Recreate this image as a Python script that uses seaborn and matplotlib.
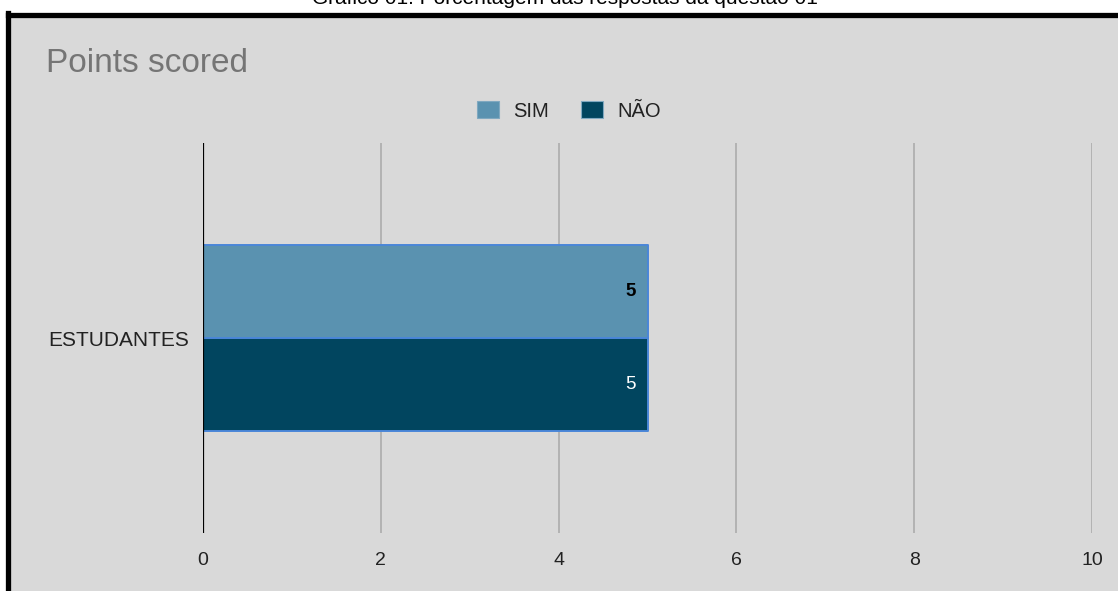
import matplotlib
matplotlib.use("Agg")
import matplotlib.pyplot as plt
import seaborn as sns
import pandas as pd
from matplotlib.patches import Rectangle
from matplotlib.lines import Line2D

categories = ["ESTUDANTES"]
series = ["SIM", "NÃO"]
sim_values = [5]
nao_values = [5]
x_ticks = [0, 2, 4, 6, 8, 10]
colors = {"SIM": "#5a92b0", "NÃO": "#01455f"}

df = pd.DataFrame({
    "cat": categories * 2,
    "serie": ["SIM"] * len(categories) + ["NÃO"] * len(categories),
    "val": sim_values + nao_values,
})

sns.set_style("white")
plt.rcParams['font.family'] = ['Liberation Sans', 'DejaVu Sans']

W, H = 1118, 591
fig = plt.figure(figsize=(W / 100, H / 100), dpi=100, facecolor="white")

# grey panel and black frame
fig.patches.append(Rectangle((8 / W, 0), 1 - 8 / W, 1 - 15 / H, transform=fig.transFigure,
                             facecolor="#d9d9d9", edgecolor="none", zorder=-10))
fig.lines.append(Line2D([7.5 / W, 7.5 / W], [0, 1 - 12.5 / H], transform=fig.transFigure,
                        color="black", linewidth=3.8, solid_capstyle="projecting", zorder=10))
fig.lines.append(Line2D([7.5 / W, 1], [1 - 14.5 / H, 1 - 14.5 / H], transform=fig.transFigure,
                        color="black", linewidth=3.8, solid_capstyle="projecting", zorder=10))

ax = fig.add_axes([203 / W, (H - 533) / H, (1092 - 203) / W, (533 - 143) / H])
ax.set_facecolor("none")

sns.barplot(data=df, y="cat", x="val", hue="serie", orient="h", palette=colors,
            width=0.477, ax=ax, edgecolor="#4a86d8", linewidth=1.4, legend=False,
            hue_order=series, saturation=1, zorder=4)
for p in ax.patches:
    p.set_joinstyle("round")

ax.set_xlim(0, 10)
ax.set_ylim(0.5, -0.5)
ax.set_xticks(x_ticks)
ax.set_xticklabels([str(t) for t in x_ticks], fontsize=14, color="#222222")
ax.tick_params(axis="x", length=0, pad=14)
ax.tick_params(axis="y", length=0, pad=10, labelsize=15, labelcolor="#222222")
ax.set_xlabel("")
ax.set_ylabel("")
for s in ax.spines.values():
    s.set_visible(False)
for t in x_ticks[1:]:
    ax.axvline(t, color="#a8a8a8", linewidth=1.1, zorder=0)
ax.axvline(0, color="black", linewidth=1.6, zorder=5)

# value labels
for container, col, weight in zip(ax.containers, ["black", "white"], ["bold", "normal"]):
    for bar in container:
        w = bar.get_width()
        ax.text(w - 0.13, bar.get_y() + bar.get_height() / 2, f"{w:g}", ha="right", va="center",
                fontsize=13.5, color=col, fontweight=weight, zorder=6)

# legend
handles = [Rectangle((0, 0), 1, 1, facecolor=colors[s], edgecolor="#7fa8c0", linewidth=0.8) for s in series]
fig.legend(handles, series, loc="center", bbox_to_anchor=(569 / W, 1 - 111 / H), ncol=2,
           frameon=False, fontsize=14.5, handlelength=1.1, handleheight=0.85, columnspacing=1.6,
           handletextpad=0.7, labelcolor="#222222")

fig.text(46 / W, 1 - 63 / H, "Points scored", fontsize=24, color="#757575", va="center", ha="left")
fig.text(565 / W, 1 + 1 / H, "Gráfico 01: Porcentagem das respostas da questão 01", fontsize=15,
         color="black", ha="center", va="center")

fig.savefig("out.png", dpi=100, facecolor="white")
